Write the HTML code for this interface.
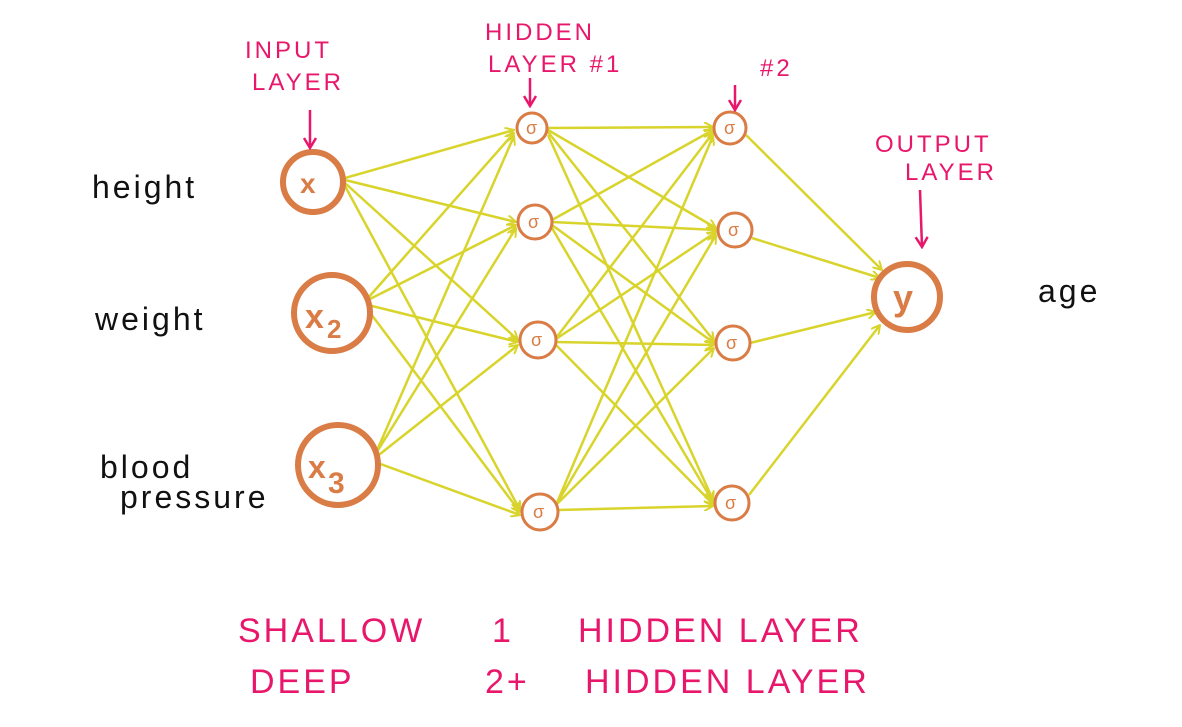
<!DOCTYPE html>
<html><head><meta charset="utf-8"><style>
html,body{margin:0;padding:0;background:#fff;}
svg{display:block}
.k{font-family:"Liberation Sans",sans-serif;font-size:32px;fill:#111;letter-spacing:3px;}
.p{font-family:"Liberation Sans",sans-serif;fill:#e8176b;letter-spacing:3px;}
</style></head><body>
<svg width="1182" height="727" viewBox="0 0 1182 727" xmlns="http://www.w3.org/2000/svg">
<defs>
<marker id="ya" markerWidth="10" markerHeight="10" refX="9" refY="5" orient="auto" markerUnits="userSpaceOnUse">
<path d="M0,0 L9,5 L0,10" fill="none" stroke="#d8d42c" stroke-width="2"/></marker>
<marker id="pa" markerWidth="14" markerHeight="14" refX="12" refY="7" orient="auto" markerUnits="userSpaceOnUse">
<path d="M2,1 L12,7 L2,13" fill="none" stroke="#e8176b" stroke-width="2.5"/></marker>
</defs>
<g stroke="#d8d42c" stroke-width="2.5" fill="none" marker-end="url(#ya)">
<line x1="345" y1="178" x2="514" y2="130"/><line x1="345" y1="180" x2="516" y2="222"/><line x1="345" y1="183" x2="518" y2="340"/><line x1="345" y1="186" x2="520" y2="510"/>
<line x1="368" y1="298" x2="514" y2="133"/><line x1="368" y1="300" x2="516" y2="225"/><line x1="368" y1="305" x2="518" y2="342"/><line x1="368" y1="310" x2="520" y2="512"/>
<line x1="375" y1="455" x2="514" y2="136"/><line x1="375" y1="455" x2="516" y2="228"/><line x1="375" y1="458" x2="518" y2="345"/><line x1="375" y1="462" x2="520" y2="515"/>
<line x1="548" y1="128" x2="713" y2="127"/><line x1="548" y1="130" x2="716" y2="228"/><line x1="548" y1="132" x2="714" y2="341"/><line x1="548" y1="135" x2="713" y2="500"/>
<line x1="552" y1="220" x2="713" y2="130"/><line x1="552" y1="222" x2="716" y2="230"/><line x1="552" y1="225" x2="714" y2="343"/><line x1="552" y1="228" x2="713" y2="502"/>
<line x1="556" y1="338" x2="713" y2="133"/><line x1="556" y1="339" x2="716" y2="232"/><line x1="556" y1="342" x2="714" y2="345"/><line x1="556" y1="345" x2="713" y2="504"/>
<line x1="556" y1="505" x2="713" y2="136"/><line x1="556" y1="505" x2="716" y2="235"/><line x1="556" y1="505" x2="714" y2="348"/><line x1="558" y1="510" x2="713" y2="506"/>
<line x1="746" y1="135" x2="882" y2="270"/><line x1="752" y1="238" x2="880" y2="278"/><line x1="750" y1="343" x2="876" y2="312"/><line x1="749" y1="495" x2="880" y2="325"/>
</g>
<g stroke="#d97c45" fill="#fff">
<circle cx="313" cy="182" r="30" stroke-width="6"/>
<circle cx="332" cy="313" r="38" stroke-width="6"/>
<circle cx="338" cy="465" r="40" stroke-width="6"/>
<circle cx="907" cy="297" r="33" stroke-width="6"/>
<g stroke-width="3">
<circle cx="532" cy="128" r="15"/><circle cx="535" cy="222" r="17"/><circle cx="538" cy="340" r="18"/><circle cx="540" cy="512" r="18"/>
<circle cx="730" cy="128" r="16"/><circle cx="735" cy="230" r="17"/><circle cx="733" cy="343" r="17"/><circle cx="732" cy="503" r="17"/>
</g></g>
<g font-family="Liberation Sans,sans-serif" fill="#d97c45" font-weight="bold">
<text x="300" y="193" font-size="28">x</text>
<text x="305" y="328" font-size="34">x</text><text x="327" y="338" font-size="26">2</text>
<text x="308" y="478" font-size="32">x</text><text x="328" y="493" font-size="30">3</text>
<text x="893" y="310" font-size="36">y</text>
<g font-size="18" font-weight="normal"><text x="526" y="134">σ</text><text x="528" y="228">σ</text><text x="531" y="346">σ</text><text x="533" y="518">σ</text>
<text x="724" y="134">σ</text><text x="728" y="236">σ</text><text x="726" y="349">σ</text><text x="725" y="509">σ</text></g>
</g>
<text class="k" x="92" y="198">height</text>
<text class="k" x="95" y="330">weight</text>
<text class="k" x="100" y="478">blood</text>
<text class="k" x="120" y="508">pressure</text>
<text class="k" x="1038" y="302" font-size="36">age</text>
<g class="p" font-size="24">
<text x="245" y="58">INPUT</text><text x="252" y="90">LAYER</text>
<text x="485" y="40">HIDDEN</text><text x="488" y="72">LAYER #1</text>
<text x="760" y="76">#2</text>
<text x="875" y="152">OUTPUT</text><text x="905" y="180">LAYER</text>
</g>
<g stroke="#e8176b" stroke-width="2.5" fill="none" marker-end="url(#pa)">
<line x1="310" y1="110" x2="310" y2="148"/><line x1="530" y1="78" x2="530" y2="106"/>
<line x1="735" y1="85" x2="735" y2="110"/><line x1="920" y1="190" x2="922" y2="247"/>
</g>
<g class="p" font-size="34" letter-spacing="8">
<text x="238" y="642">SHALLOW</text><text x="492" y="642">1</text><text x="578" y="642">HIDDEN LAYER</text>
<text x="250" y="693">DEEP</text><text x="485" y="693">2+</text><text x="585" y="693">HIDDEN LAYER</text>
</g>
</svg>
</body></html>
